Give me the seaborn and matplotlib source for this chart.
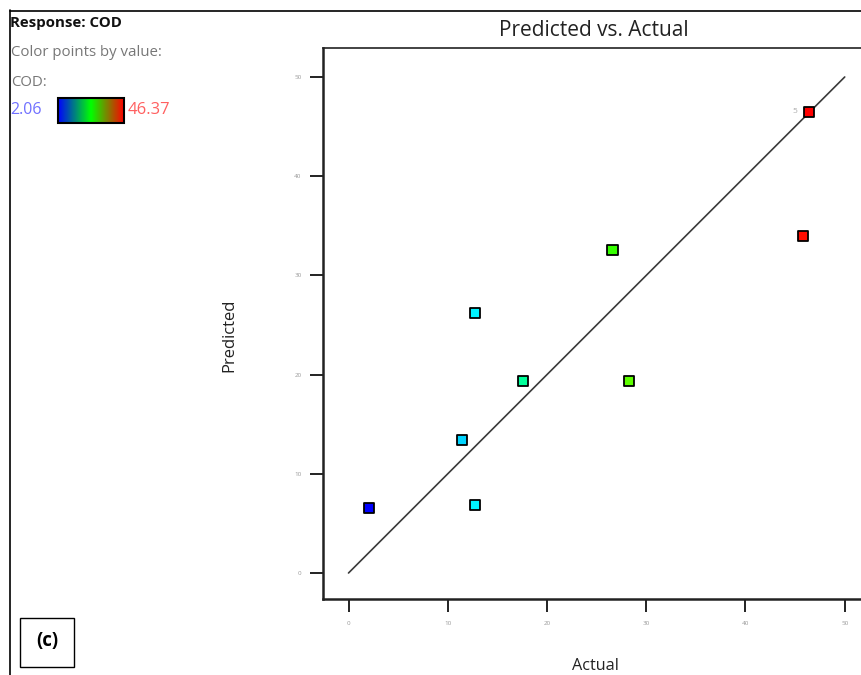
"""
Predicted vs. Actual plot for the COD response, coloured by value.
Saves out.png (861x675).
"""

import matplotlib.pyplot as plt
import numpy as np
import pandas as pd
import seaborn as sns
from matplotlib.cm import ScalarMappable
from matplotlib.colors import LinearSegmentedColormap, Normalize
from matplotlib.lines import Line2D
from matplotlib.patches import Rectangle

# data
actual = [2.06, 11.4, 12.7, 12.7, 17.6, 26.6, 28.3, 45.8, 46.37]
predicted = [6.6, 13.4, 6.9, 26.2, 19.4, 32.6, 19.4, 34.0, 46.5]
cod_min, cod_max = 2.06, 46.37
ref_line = [0, 50]
ticks = [0, 10, 20, 30, 40, 50]
replicate_label = "5"

W, H = 861, 675


def fx(px):
    return px / W


def fy(py):
    return 1 - py / H


sns.set_style("white")
plt.rcParams["font.family"] = ["Open Sans", "DejaVu Sans"]

df = pd.DataFrame({"Actual": actual, "Predicted": predicted})

point_cmap = LinearSegmentedColormap.from_list(
    "pts", ["#0000ff", "#00ffff", "#00ff00", "#ffff00", "#ff0000"])
bar_cmap = LinearSegmentedColormap.from_list(
    "bar", ["#0000ff", "#00ff00", "#ff0000"])
norm = Normalize(cod_min, cod_max)

fig = plt.figure(figsize=(W / 100, H / 100), dpi=100)
ax = fig.add_axes([fx(323), fy(599), (874.5 - 323) / W, (599 - 48) / H])

ax.plot(ref_line, ref_line, color="#3a3a3a", lw=1.2, zorder=1)
sns.scatterplot(data=df, x="Actual", y="Predicted", hue="Actual",
                palette=point_cmap, hue_norm=norm, marker="s", s=52,
                edgecolor="black", linewidth=1.3, legend=False, ax=ax, zorder=3)

top = df.loc[df["Actual"].idxmax()]
ax.annotate(replicate_label, (top["Actual"], top["Predicted"]),
            xytext=(-10, 0), textcoords="offset points",
            ha="center", va="center", fontsize=6, color="#aaaaaa")

ax.set_xlim(-2.57, 53.0)
ax.set_ylim(-2.62, 52.92)
ax.set_xticks(ticks)
ax.set_yticks(ticks)
ax.tick_params(axis="both", direction="out", length=9.5, width=1.4,
               bottom=True, left=True,
               color="#222222", labelsize=4.5, labelcolor="#999999", pad=6)
for side in ["left", "bottom"]:
    ax.spines[side].set_linewidth(1.8)
    ax.spines[side].set_color("#222222")
ax.spines["top"].set_linewidth(1.2)
ax.spines["top"].set_color("#222222")
ax.set_xlabel("")
ax.set_ylabel("")

# titles and labels
fig.text(fx(594), fy(30), "Predicted vs. Actual", ha="center", va="center",
         fontsize=15, color="#222222")
fig.text(fx(595), fy(666), "Actual", ha="center", va="center",
         fontsize=11.7, color="#222222")
fig.text(fx(229), fy(335), "Predicted", ha="center", va="center",
         rotation=90, fontsize=12, color="#222222")

# response legend
fig.text(fx(10), fy(23), "Response: COD", ha="left", va="center",
         fontsize=10.8, fontweight="bold", color="#111111")
fig.text(fx(11), fy(53), "Color points by value:", ha="left", va="center",
         fontsize=10.8, color="#777777")
fig.text(fx(11), fy(82), "COD:", ha="left", va="center",
         fontsize=10.8, color="#777777")
fig.text(fx(10), fy(110), f"{cod_min:.2f}", ha="left", va="center",
         fontsize=11.5, color="#7070ff")
fig.text(fx(128), fy(110), f"{cod_max:.2f}", ha="left", va="center",
         fontsize=12, color="#ff6060")
cax = fig.add_axes([fx(58), fy(123), 66 / W, 25 / H])
cb = fig.colorbar(ScalarMappable(norm=norm, cmap=bar_cmap), cax=cax,
                  orientation="horizontal")
cb.set_ticks([])
cb.outline.set_linewidth(1.5)
cb.outline.set_edgecolor("black")

# outer frame and panel tag
fig.add_artist(Line2D([fx(10), fx(10)], [fy(10), 0], color="black", lw=1.2))
fig.add_artist(Line2D([fx(10), 1], [fy(11), fy(11)], color="black", lw=1.2))
fig.add_artist(Rectangle((fx(20), fy(667)), 54 / W, 49 / H, transform=fig.transFigure,
                         facecolor="white", edgecolor="black", lw=1.0))
fig.text(fx(47), fy(641), "(c)", ha="center", va="center",
         fontsize=13.5, fontweight="bold", color="black")

fig.savefig("out.png", dpi=100)
plt.close(fig)
